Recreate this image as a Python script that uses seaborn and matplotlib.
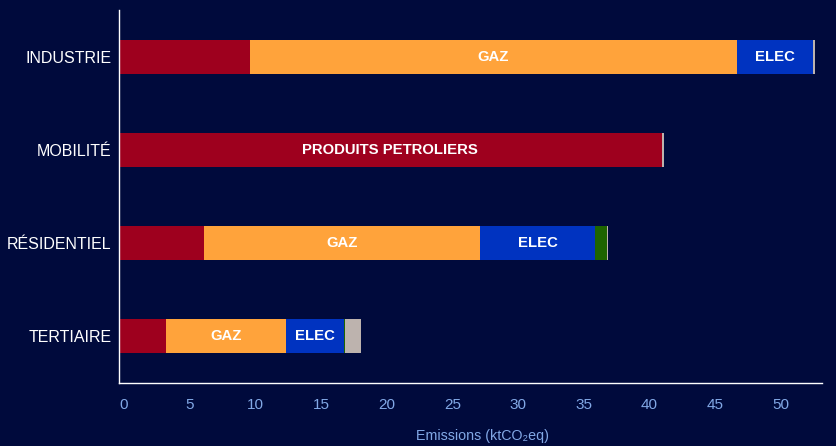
import matplotlib
matplotlib.use("Agg")
import matplotlib.pyplot as plt
import matplotlib.transforms as mtransforms
import seaborn as sns
import numpy as np
import pandas as pd

sectors = ["INDUSTRIE", "MOBILITÉ", "RÉSIDENTIEL", "TERTIAIRE"]
energies = ["PRODUITS PETROLIERS", "GAZ", "ELEC", "BOIS", "AUTRES"]
petrole = [10.0, 41.3, 6.5, 3.6]
gaz = [37.0, 0.0, 21.0, 9.1]
elec = [5.8, 0.0, 8.7, 4.4]
bois = [0.0, 0.0, 0.9, 0.1]
autres = [0.15, 0.15, 0.15, 1.2]
colors = ["#9E001E", "#FFA33B", "#0033C0", "#1E6400", "#BDB3AE"]
bg = "#000A3C"
axis_blue = "#82A8E6"

series = [petrole, gaz, elec, bois, autres]
df = pd.DataFrame({e: v for e, v in zip(energies, series)}, index=sectors)
cum = df.cumsum(axis=1)

sns.set_theme(style="white")
plt.rcParams['font.family'] = ['Liberation Sans', 'DejaVu Sans']

fig = plt.figure(figsize=(8.37, 4.46), dpi=100, facecolor=bg)
ax = fig.add_axes([119/837, 1 - 383/446, (822-119)/837, (383-10)/446])
ax.set_facecolor(bg)

for i in reversed(range(len(energies))):
    d = pd.DataFrame({"sector": sectors, "value": cum.iloc[:, i].values})
    sns.barplot(data=d, y="sector", x="value", orient="h", color=colors[i],
                saturation=1, width=0.365, ax=ax, linewidth=0, order=sectors)

ax.set_xlim(0, 53.5)
ax.set_ylim(3.5, -0.5)
ax.set_xticks(np.arange(0, 51, 5))
ax.tick_params(axis="x", colors=axis_blue, labelsize=11, length=0, pad=11)
ax.tick_params(axis="y", colors="white", labelsize=11.5, length=0, pad=5.5)
offset = mtransforms.ScaledTranslation(5/100, 0, fig.dpi_scale_trans)
for lab in ax.get_xticklabels():
    lab.set_color(axis_blue)
    lab.set_transform(lab.get_transform() + offset)
ax.set_ylabel("")
ax.set_xlabel("Emissions (ktCO₂eq)", color=axis_blue, fontsize=10.3)
ax.xaxis.set_label_coords((483 - 119) / (822 - 119), -(429 - 383) / (383 - 10))
for s in ["top", "right"]:
    ax.spines[s].set_visible(False)
for s in ["left", "bottom"]:
    ax.spines[s].set_color("white")
    ax.spines[s].set_linewidth(1)

fig.canvas.draw()
renderer = fig.canvas.get_renderer()
for r, sec in enumerate(sectors):
    left = 0.0
    for j, e in enumerate(energies):
        w = df.loc[sec, e]
        if w > 0 and j < 3:
            t = ax.text(left + w / 2, r, e, ha="center", va="center", color="white",
                        fontsize=10.7, fontweight="bold")
            bb = t.get_window_extent(renderer)
            x0 = ax.transData.transform((left, r))[0]
            x1 = ax.transData.transform((left + w, r))[0]
            if bb.width + 16 > (x1 - x0):
                t.remove()
        left += w

fig.savefig("out.png", dpi=100, facecolor=bg)
